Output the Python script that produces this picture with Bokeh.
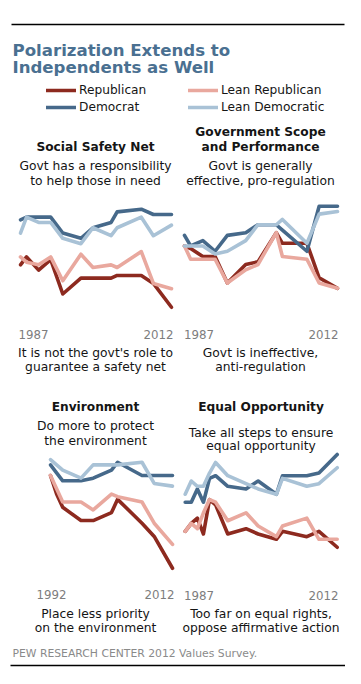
from bokeh.plotting import figure
from bokeh.models import Range1d, Legend, LegendItem
from bokeh.core.properties import value
from bokeh.embed import file_html
from bokeh.resources import INLINE

# ---------------- data (percent) ----------------
series_names = ["Republican", "Lean Republican", "Democrat", "Lean Democratic"]

ssn_years = [1987, 1988, 1990, 1992, 1994, 1997, 1999, 2002, 2003, 2007, 2009, 2012]
ssn_rep = [56, 59, 54, 58, 45, 51, 51, 51, 52, 52, 49, 40]
ssn_lean_rep = [59, 57, 56, 59, 50, 60, 55, 56, 55, 61, 49, 47]
ssn_dem = [73, 74, 74, 74, 68, 66, 70, 72, 76, 77, 75, 75]
ssn_lean_dem = [68, 74, 72, 72, 66, 64, 70, 67, 70, 74, 67, 71]

gov_years = [1987, 1988, 1990, 1992, 1994, 1997, 1999, 2002, 2003, 2007, 2009, 2012]
gov_rep = [55, 54, 51, 51, 41, 48, 49, 60, 56, 56, 43, 39]
gov_lean_rep = [55, 50, 50, 50, 41, 46, 48, 60, 51, 50, 41, 39]
gov_dem = [59, 55, 57, 53, 59, 60, 63, 63, 61, 53, 70, 70]
gov_lean_dem = [55, 55, 55, 52, 53, 57, 63, 63, 65, 56, 67, 68]

env_years = [1992, 1993, 1994, 1997, 1999, 2002, 2003, 2007, 2009, 2012]
env_rep = [85, 78, 73, 68, 68, 71, 76, 67, 62, 50]
env_lean_rep = [85, 80, 75, 75, 72, 78, 77, 75, 67, 59]
env_dem = [89, 86, 83, 83, 84, 87, 90, 85, 85, 85]
env_lean_dem = [91, 89, 87, 84, 89, 89, 89, 90, 82, 81]

eo_years = [1987, 1988, 1989, 1990, 1991, 1992, 1994, 1997, 1999, 2002, 2003, 2007, 2009, 2012]
eo_rep = [51, 54, 56, 50, 63, 61, 50, 52, 50, 48, 51, 49, 51, 45]
eo_lean_rep = [51, 54, 52, 58, 63, 62, 55, 58, 53, 49, 53, 56, 48, 48]
eo_dem = [62, 62, 67, 62, 71, 72, 68, 67, 70, 65, 72, 72, 73, 80]
eo_lean_dem = [65, 70, 68, 68, 73, 77, 72, 69, 67, 65, 71, 68, 69, 75]

panel_titles = [["Social Safety Net"], ["Government Scope", "and Performance"],
                ["Environment"], ["Equal Opportunity"]]
panel_top_text = [["Govt has a responsibility", "to help those in need"],
                  ["Govt is generally", "effective, pro-regulation"],
                  ["Do more to protect", "the environment"],
                  ["Take all steps to ensure", "equal opportunity"]]
panel_bottom_text = [["It is not the govt's role to", "guarantee a safety net"],
                     ["Govt is ineffective,", "anti-regulation"],
                     ["Place less priority", "on the environment"],
                     ["Too far on equal rights,", "oppose affirmative action"]]
title_lines = ["Polarization Extends to", "Independents as Well"]
source_text = "PEW RESEARCH CENTER 2012 Values Survey."

# ---------------- styling / layout ----------------
COLORS = {"Republican": "#8d2a1f", "Lean Republican": "#e9a89e",
          "Democrat": "#46698a", "Lean Democratic": "#a9c2d6"}
FONT_NAME = "DejaVu Sans"
FONT = value(FONT_NAME)
DARK = "#151515"
W, H = 345, 668

p = figure(width=W, height=H, x_range=Range1d(0, W), y_range=Range1d(H, 0),
           output_backend="svg", toolbar_location=None,
           x_axis_location=None, y_axis_location=None, min_border=0,
           outline_line_color=None, background_fill_color="white",
           border_fill_color="white")
p.grid.visible = False

# horizontal rules
p.segment(x0=[11, 10], y0=[24, 665], x1=[344, 345], y1=[24, 665],
          line_color="black", line_width=1.3)

# title
p.text(x=[12, 12], y=[49.5, 66.5], text=title_lines, text_font=FONT,
       text_font_size=value("16.6px"), text_font_style="bold",
       text_color="#4a7091", text_baseline="alphabetic", text_align="left")

# panels: year range, x pixel target, y pixel for value 0 and 100, text anchors
panels = [
    dict(data=(ssn_years, ssn_rep, ssn_lean_rep, ssn_dem, ssn_lean_dem),
         xs=(1987, 2012), xt=(20, 171), yt=(412.75, 147.75), cx=95,
         title_y=[146], top_y=[165, 180], bot_y=[352.5, 366.5],
         yl=("1987", 18, "2012", 173, 334)),
    dict(data=(gov_years, gov_rep, gov_lean_rep, gov_dem, gov_lean_dem),
         xs=(1987, 2012), xt=(184, 337), yt=(391.2, 126.2), cx=260,
         title_y=[131, 146], top_y=[165, 180], bot_y=[352.5, 366.5],
         yl=("1987", 183.5, "2012", 338, 334)),
    dict(data=(env_years, env_rep, env_lean_rep, env_dem, env_lean_dem),
         xs=(1992, 2012), xt=(50, 172), yt=(700.25, 435.25), cx=95,
         title_y=[406], top_y=[425.5, 440.5], bot_y=[613, 627],
         yl=("1992", 36, "2012", 174, 594)),
    dict(data=(eo_years, eo_rep, eo_lean_rep, eo_dem, eo_lean_dem),
         xs=(1987, 2012), xt=(184.7, 336.7), yt=(666, 401), cx=260.5,
         title_y=[406], top_y=[432, 445.5], bot_y=[613, 627],
         yl=("1987", 183.5, "2012", 338, 595)),
]

legend_renderers = {}
for i, pn in enumerate(panels):
    years, rep, lrep, dem, ldem = pn["data"]
    sub = p.subplot(x_source=Range1d(*pn["xs"]), y_source=Range1d(0, 100),
                    x_target=Range1d(*pn["xt"]), y_target=Range1d(*pn["yt"]))
    for name, vals in [("Republican", rep), ("Democrat", dem),
                       ("Lean Republican", lrep), ("Lean Democratic", ldem)]:
        r = sub.line(x=years, y=vals, line_color=COLORS[name], line_width=3.6,
                     line_join="round", line_cap="round")
        if i == 0:
            legend_renderers[name] = r

    cx = pn["cx"]
    p.text(x=[cx] * len(panel_titles[i]), y=pn["title_y"], text=panel_titles[i],
           text_font=FONT, text_font_size=value("12.2px"), text_font_style="bold",
           text_color=DARK, text_align="center", text_baseline="alphabetic")
    p.text(x=[cx] * 2, y=pn["top_y"], text=panel_top_text[i],
           text_font=FONT, text_font_size=value("12.3px"),
           text_color=DARK, text_align="center", text_baseline="alphabetic")
    p.text(x=[cx] * 2, y=pn["bot_y"], text=panel_bottom_text[i],
           text_font=FONT, text_font_size=value("12.3px"),
           text_color=DARK, text_align="center", text_baseline="alphabetic")
    a, ax, b, bx, yy = pn["yl"]
    p.text(x=[ax], y=[yy], text=[a], text_font=FONT, text_font_size=value("11.8px"),
           text_color="#7d7d7d", text_align="left", text_baseline="alphabetic")
    p.text(x=[bx], y=[yy], text=[b], text_font=FONT, text_font_size=value("11.8px"),
           text_color="#7d7d7d", text_align="right", text_baseline="alphabetic")

# source
p.text(x=[12], y=[653], text=[source_text], text_font=FONT,
       text_font_size=value("10.8px"), text_color="#8a8a8a",
       text_align="left", text_baseline="alphabetic")

# legends (location = bottom-left corner in screen pixels)
def make_legend(names, loc):
    leg = Legend(items=[LegendItem(label=n, renderers=[legend_renderers[n]]) for n in names],
                 location=loc, orientation="vertical", glyph_width=30, glyph_height=14,
                 label_height=14, label_standoff=3, spacing=3, padding=0, margin=0,
                 border_line_color=None, background_fill_alpha=0,
                 label_text_font=FONT_NAME, label_text_font_size="12.2px",
                 label_text_color=DARK)
    p.add_layout(leg)

make_legend(["Republican", "Democrat"], (46, H - 83 - 31))
make_legend(["Lean Republican", "Lean Democratic"], (188, H - 83 - 31))

open("out.html", "w").write(file_html(p, INLINE))
